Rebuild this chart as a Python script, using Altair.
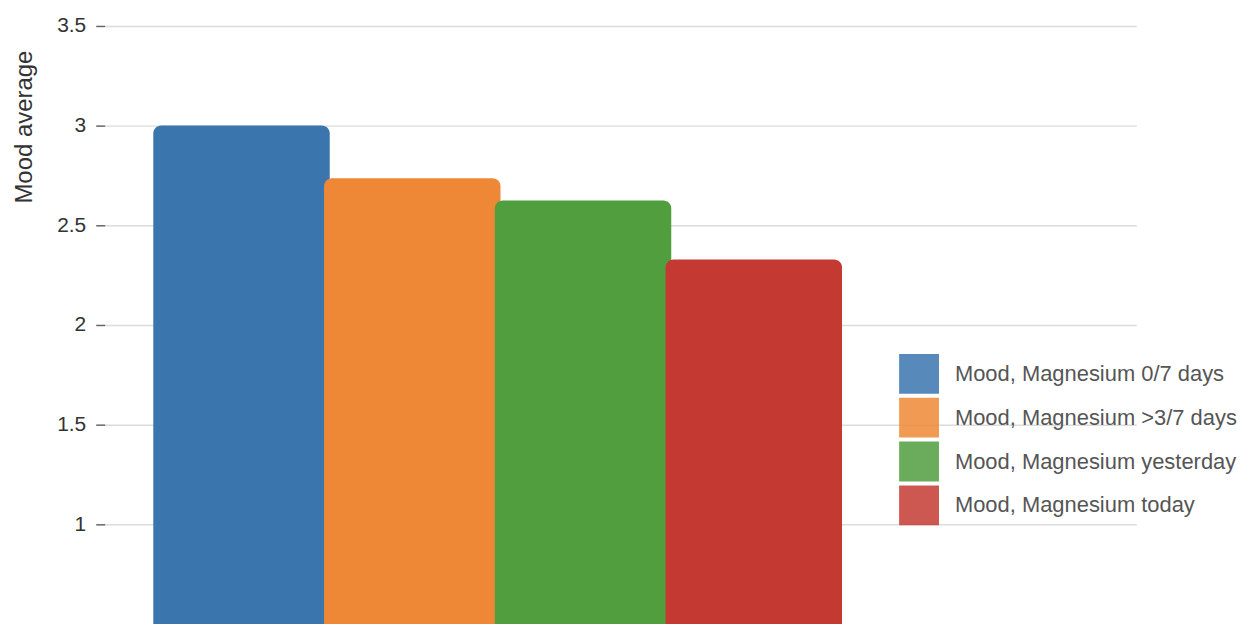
import altair as alt
import pandas as pd

series = ["Mood, Magnesium 0/7 days", "Mood, Magnesium >3/7 days",
          "Mood, Magnesium yesterday", "Mood, Magnesium today"]
values = [3.0, 2.736, 2.625, 2.328]
positions = [0, 1, 2, 3]
bar_colors = ["#3a75ae", "#ee8836", "#519e3f", "#c43a33"]
y_ticks = [1, 1.5, 2, 2.5, 3, 3.5]

df = pd.DataFrame({"series": series, "value": values, "pos": positions})

FONT = "Liberation Sans"

chart = alt.Chart(df).mark_bar(
    width=177, cornerRadiusTopLeft=8, cornerRadiusTopRight=8
).encode(
    x=alt.X("pos:Q", scale=alt.Scale(domain=[-0.772, 5.211], nice=False, zero=False), axis=None),
    y=alt.Y("value:Q",
            scale=alt.Scale(domain=[0.5, 3.5], nice=False, zero=False),
            axis=alt.Axis(values=y_ticks, format=".1~f", title="Mood average", grid=True,
                          gridColor="#dcdcdc", gridWidth=1.5, domain=False,
                          tickColor="#666666", tickSize=9, tickWidth=1.5,
                          labelFont=FONT, labelFontSize=21, labelColor="#333333",
                          labelPadding=10, labelFlush=False,
                          titleFont=FONT, titleFontSize=24, titleFontWeight="normal",
                          titleColor="#333333", titleX=-80, titleY=101,
                          titleAngle=270, titleAlign="center", titleBaseline="middle")),
    y2=alt.datum(0.5),
    color=alt.Color("series:N",
                    scale=alt.Scale(domain=series, range=bar_colors),
                    legend=alt.Legend(title=None, orient="none", legendX=797, legendY=329,
                                      symbolType="square", symbolSize=1600,
                                      symbolStrokeWidth=0, symbolOpacity=0.85,
                                      rowPadding=4, labelOffset=16,
                                      labelFont=FONT, labelFontSize=22,
                                      labelColor="#555555", labelLimit=400)),
    order=alt.Order("pos:Q"),
).properties(
    width=1035, height=600,
    autosize=alt.AutoSizeParams(type="none"),
    padding={"left": 97, "top": 17, "right": 110, "bottom": 5},
).configure_view(stroke=None)

chart.save("out.html", embed_options={"renderer": "svg", "actions": False})
